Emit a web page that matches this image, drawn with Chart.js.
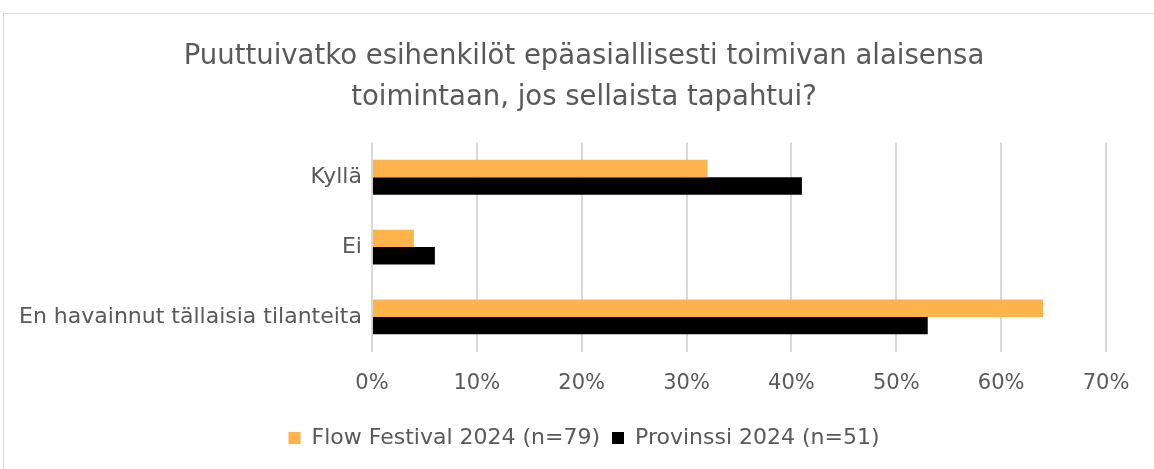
<!DOCTYPE html>
<html>
<head>
<meta charset="utf-8">
<script src="https://cdn.jsdelivr.net/npm/chart.js@4"></script>
<style>
  html, body { margin: 0; padding: 0; background: #fff; }
  #frame {
    position: absolute; left: 3px; top: 13px; width: 1200px; height: 500px;
    border: 1px solid #d9d9d9; box-sizing: border-box;
  }
  #wrap { position: absolute; left: 0; top: 0; width: 1154px; height: 469px; }
</style>
</head>
<body>
<div id="frame"></div>
<div id="wrap"><canvas id="chart"></canvas></div>
<script>
// Data
const categories = ['Kyllä', 'Ei', 'En havainnut tällaisia tilanteita'];
const flowValues = [32, 4, 64];
const provinssiValues = [41, 6, 53];
const seriesNames = ['Flow Festival 2024 (n=79)', 'Provinssi 2024 (n=51)'];
const titleLines = ['Puuttuivatko esihenkilöt epäasiallisesti toimivan alaisensa', 'toimintaan, jos sellaista tapahtui?'];

const textColor = '#595959';
const fontFamily = '"DejaVu Sans", Verdana, sans-serif';

const ctx = document.getElementById('chart').getContext('2d');

new Chart(ctx, {
    type: 'bar',
    data: {
        labels: categories,
        datasets: [{
            label: seriesNames[0],
            data: flowValues,
            backgroundColor: '#ffb34b',
            barPercentage: 1,
            categoryPercentage: 0.5
        }, {
            label: seriesNames[1],
            data: provinssiValues,
            backgroundColor: '#000000',
            barPercentage: 1,
            categoryPercentage: 0.5
        }]
    },
    options: {
        indexAxis: 'y',
        responsive: true,
        maintainAspectRatio: false,
        animation: false,
        layout: {
            padding: { top: 12, right: -5, left: 9, bottom: 10 }
        },
        plugins: {
            title: {
                display: true,
                text: titleLines,
                color: textColor,
                font: { family: fontFamily, size: 27.5, weight: 'normal', lineHeight: 1.48 },
                padding: { top: 25, bottom: 24 }
            },
            legend: {
                position: 'bottom',
                labels: {
                    color: textColor,
                    font: { family: fontFamily, size: 22 },
                    boxWidth: 12,
                    boxHeight: 12,
                    padding: 12
                }
            },
            tooltip: { enabled: false }
        },
        scales: {
            x: {
                min: 0,
                max: 70,
                // keep the plot's right edge where the reference has it
                afterFit: (scale) => { scale.paddingRight = 48; },
                ticks: {
                    stepSize: 10,
                    color: textColor,
                    font: { family: fontFamily, size: 21 },
                    padding: 19,
                    callback: (v) => v + '%'
                },
                grid: {
                    color: '#d9d9d9',
                    lineWidth: 2,
                    drawTicks: false
                },
                border: { display: false }
            },
            y: {
                ticks: {
                    color: textColor,
                    font: { family: fontFamily, size: 22 },
                    padding: 10
                },
                grid: { display: false, drawTicks: false },
                border: { display: false }
            }
        }
    }
});
</script>
</body>
</html>
